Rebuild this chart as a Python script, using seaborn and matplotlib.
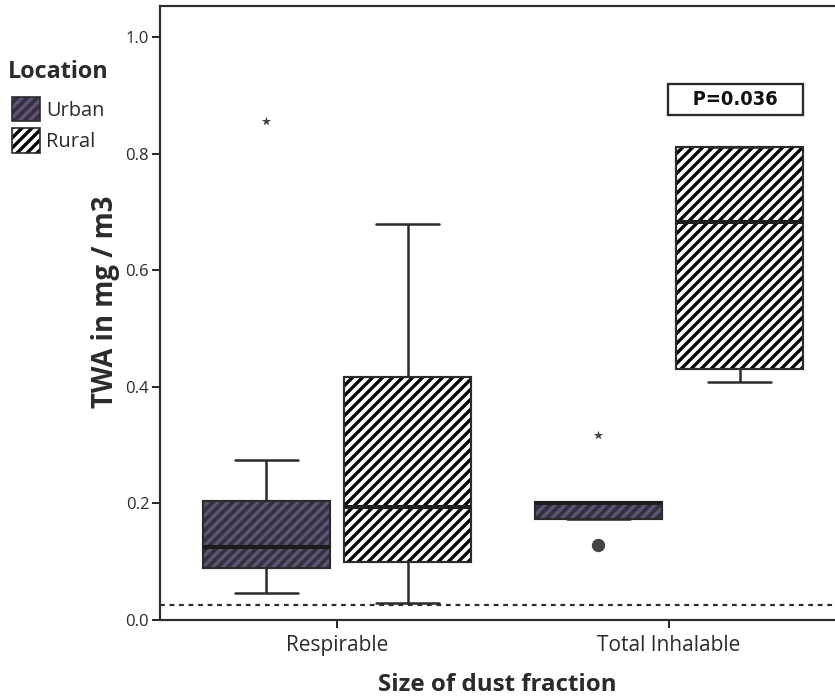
import numpy as np
import pandas as pd
import matplotlib
matplotlib.use("Agg")
import matplotlib.pyplot as plt
from matplotlib.patches import Patch
from matplotlib.colors import to_rgba
import seaborn as sns

# ---- data ----
categories = ["Respirable", "Total Inhalable"]
locations = ["Urban", "Rural"]
# order: (Respirable, Urban), (Respirable, Rural), (Total, Urban), (Total, Rural)
group_cat = ["Respirable", "Respirable", "Total Inhalable", "Total Inhalable"]
group_loc = ["Urban", "Rural", "Urban", "Rural"]
whisker_low = [0.046, 0.029, 0.173, 0.408]
q1 = [0.089, 0.100, 0.173, 0.430]
median = [0.125, 0.194, 0.200, 0.683]
q3 = [0.204, 0.417, 0.202, 0.811]
whisker_high = [0.274, 0.679, 0.202, 0.811]
# outliers
extreme_cat = ["Respirable", "Total Inhalable"]
extreme_loc = ["Urban", "Urban"]
extreme_val = [0.856, 0.317]
mild_cat = ["Total Inhalable"]
mild_loc = ["Urban"]
mild_val = [0.129]
limit_value = 0.025
p_text = "P=0.036"

rows = []
for c, l, a, b, m, d, e in zip(group_cat, group_loc, whisker_low, q1, median, q3, whisker_high):
    for v in (a, b, m, d, e):
        rows.append({"fraction": c, "Location": l, "TWA": v})
df = pd.DataFrame(rows)

sns.set_theme(style="white")
plt.rcParams["font.family"] = ["Open Sans", "DejaVu Sans"]
plt.rcParams["hatch.linewidth"] = 2.0

DPI = 120
fig = plt.figure(figsize=(835 / DPI, 697 / DPI), dpi=DPI)
ax = fig.add_axes([160 / 835, 1 - 620 / 697, 1 - 160 / 835, (620 - 6) / 697])

BOX_W = 0.85
GAP = 0.1
HATCH = "////"
dark = "#2b2b2b"
urban_fill = "#362e40"
urban_hatch = "#5f5372"

sns.boxplot(data=df, x="fraction", y="TWA", hue="Location", order=categories,
            hue_order=locations, width=BOX_W, gap=GAP, whis=np.inf, ax=ax,
            palette={"Urban": urban_fill, "Rural": "white"},
            linecolor=dark, linewidth=1.3,
            medianprops={"linewidth": 2.4, "color": "#1c1c1c"},
            whiskerprops={"linewidth": 1.5},
            capprops={"linewidth": 1.5},
            legend=False)

def set_hatch(p, hcol):
    p.set_hatch(HATCH)
    if hasattr(p, "set_hatchcolor"):
        p.set_hatchcolor(hcol)
    else:
        p._hatch_color = to_rgba(hcol)

for p in ax.patches:
    fc = p.get_facecolor()
    is_urban = fc[0] < 0.5
    p.set_edgecolor(dark)
    set_hatch(p, urban_hatch if is_urban else "black")

# outliers drawn at the dodged positions
def xpos(cat, loc):
    off = (locations.index(loc) - 0.5) * BOX_W / len(locations)
    return categories.index(cat) + off

ax.scatter([xpos(c, l) for c, l in zip(extreme_cat, extreme_loc)], extreme_val,
           marker="*", s=34, color="#444444", zorder=5, linewidths=0)
ax.scatter([xpos(c, l) for c, l in zip(mild_cat, mild_loc)], mild_val,
           marker="o", s=64, color="#444444", zorder=5, linewidths=0)

ax.axhline(limit_value, color=dark, linestyle=(0, (2.2, 2.2)), linewidth=1.3, zorder=1)

ax.set_xlim(-0.533, 1.5)
ax.set_ylim(0, 1.053)
ax.set_yticks([0.0, 0.2, 0.4, 0.6, 0.8, 1.0])
ax.set_yticklabels(["0.0", "0.2", "0.4", "0.6", "0.8", "1.0"], fontsize=10, color=dark)
ax.set_xticks([0, 1])
ax.set_xticklabels(categories, fontsize=12.5, color=dark)
ax.tick_params(axis="y", direction="out", length=5, width=1.2, color=dark, pad=1.5, left=True)
ax.tick_params(axis="x", direction="out", length=5, width=1.2, color=dark, pad=4, bottom=True)
for side in ["left", "bottom", "top"]:
    ax.spines[side].set_color(dark)
    ax.spines[side].set_linewidth(1.3)
ax.spines["right"].set_visible(False)

ax.set_ylabel("TWA in mg / m3", fontsize=16.5, fontweight="bold", color=dark)
ax.yaxis.set_label_coords(-0.06, 0.518)
ax.set_xlabel("Size of dust fraction", fontsize=14.5, fontweight="bold", color=dark, labelpad=10)

ax.text(1.2, 0.893, "   " + p_text + "   ", ha="center", va="center", fontsize=12,
        fontweight="bold", family="DejaVu Sans", fontstretch="condensed", color="#111111",
        bbox=dict(boxstyle="square,pad=0.3", facecolor="white", edgecolor=dark, linewidth=1.4))

fig.text(8 / 835, 1 - 72 / 697, "Location", ha="left", va="center",
         fontsize=14, fontweight="bold", color=dark)
h_urban = Patch(facecolor=urban_fill, edgecolor=dark, linewidth=1.0)
set_hatch(h_urban, urban_hatch)
h_rural = Patch(facecolor="white", edgecolor=dark, linewidth=1.0)
set_hatch(h_rural, "black")
leg = fig.legend([h_urban, h_rural], locations, loc="upper left",
                 bbox_to_anchor=(12 / 835, 1 - 97 / 697), frameon=False, fontsize=12,
                 handlelength=1.4, handleheight=1.5, handletextpad=0.3,
                 labelspacing=0.35, borderaxespad=0.0, borderpad=0.0)
for t in leg.get_texts():
    t.set_color(dark)

fig.savefig("out.png", dpi=DPI)
